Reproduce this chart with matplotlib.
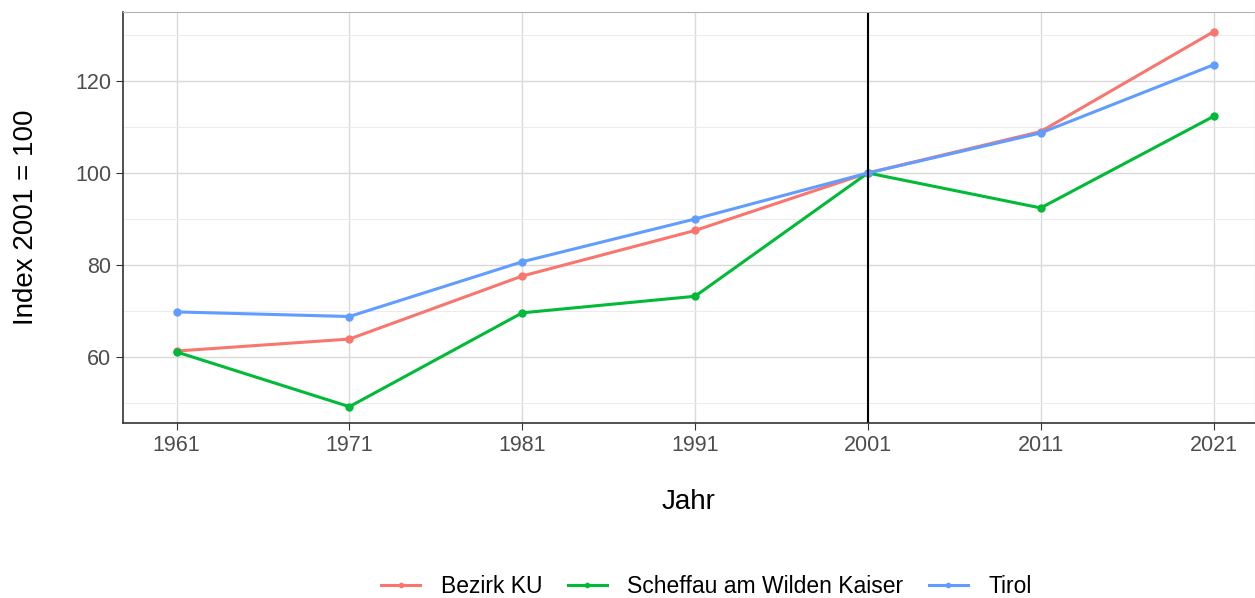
import matplotlib.pyplot as plt

plt.rcParams['font.family'] = ['Liberation Sans', 'DejaVu Sans']

years = [1961, 1971, 1981, 1991, 2001, 2011, 2021]
bezirk_ku = [61.3, 63.9, 77.6, 87.5, 100.0, 109.0, 130.7]
scheffau = [61.1, 49.2, 69.6, 73.2, 100.0, 92.4, 112.3]
tirol = [69.8, 68.8, 80.7, 90.0, 100.0, 108.7, 123.5]

series = [
    ('Bezirk KU', bezirk_ku, '#F8766D'),
    ('Scheffau am Wilden Kaiser', scheffau, '#00BA38'),
    ('Tirol', tirol, '#619CFF'),
]

fig = plt.figure(figsize=(12.55, 5.98), dpi=100)
ax = fig.add_axes([0.098, 0.293, 0.902, 0.687])

for name, vals, col in series:
    ax.plot(years, vals, color=col, linewidth=2.2, marker='o', markersize=5, label=name)

ax.axvline(2001, color='black', linewidth=1.5)

ax.set_xlim(1957.9, 2023.4)
ax.set_ylim(45.7, 135)
ax.set_xticks(years)
ax.set_yticks([60, 80, 100, 120])
ax.set_yticks([50, 70, 90, 110, 130], minor=True)
ax.grid(True, which='major', color='#D9D9D9', linewidth=1.0)
ax.grid(True, which='minor', color='#EBEBEB', linewidth=0.7)
ax.set_axisbelow(True)
ax.tick_params(axis='both', which='major', labelsize=15.5, labelcolor='#4D4D4D',
               color='#333333', length=5)
ax.tick_params(axis='y', which='minor', length=0)

for side in ['top', 'right']:
    ax.spines[side].set_color('#B3B3B3')
for side in ['left', 'bottom']:
    ax.spines[side].set_color('#333333')
    ax.spines[side].set_linewidth(1.2)

ax.set_xlabel('Jahr', fontsize=20, labelpad=24)
ax.set_ylabel('Index 2001 = 100', fontsize=20, labelpad=26)

fig.legend(loc='lower center', bbox_to_anchor=(0.563, -0.035), ncol=3, frameon=False,
           fontsize=16.5, handlelength=1.7, handletextpad=0.9, columnspacing=1.1,
           markerscale=0.6)

fig.savefig('out.png', dpi=100)
